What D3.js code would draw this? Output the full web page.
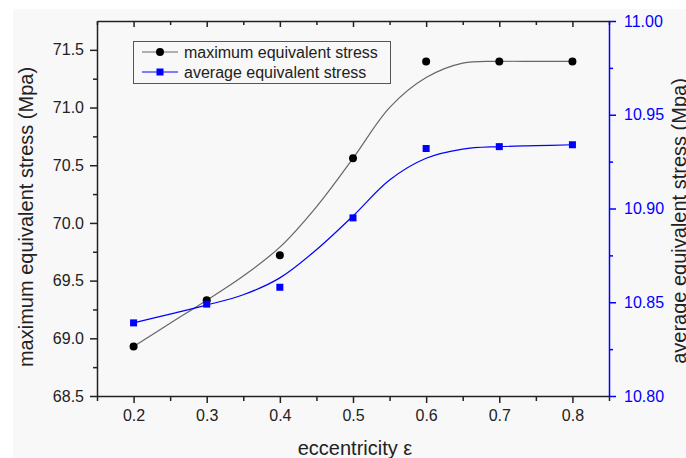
<!DOCTYPE html>
<meta charset="utf-8">
<script src="https://cdnjs.cloudflare.com/ajax/libs/d3/7.8.5/d3.min.js"></script>
<style>
  body { margin: 0; background: #fff; font-family: "Liberation Sans", Arial, sans-serif; }
  .axis text { font-size: 16px; fill: #222; font-family: "Liberation Sans", Arial, sans-serif; }
  .axis path, .axis line { stroke: #222; stroke-width: 1.5px; }
  .axis.right path, .axis.right line { stroke: #0000ff; }
  .axis.right text { fill: #0000ff; }
  .title { font-size: 20px; fill: #222; }
  .legend text { font-size: 16px; fill: #222; }
</style>
<body>
<script>

// data
var ecc = [0.2, 0.3, 0.4, 0.5, 0.6, 0.7, 0.8];
var maxStress = [68.93, 69.33, 69.72, 70.56, 71.40, 71.40, 71.40];
var avgStress = [10.839, 10.849, 10.858, 10.895, 10.932, 10.933, 10.934];

// fitted curves, sampled every 0.05 from the picture
var fitX = [0.2, 0.25, 0.3, 0.35, 0.4, 0.45, 0.5, 0.55, 0.6, 0.65, 0.7, 0.75, 0.8];
var maxFit = [68.93, 69.13, 69.33, 69.54, 69.79, 70.14, 70.56, 71.00, 71.26, 71.385, 71.40, 71.40, 71.40];
var avgFit = [10.839, 10.8437, 10.8485, 10.854, 10.863, 10.878, 10.896, 10.9152, 10.9268, 10.9317, 10.933, 10.9335, 10.934];

var xTicks = [0.2, 0.3, 0.4, 0.5, 0.6, 0.7, 0.8];
var xMinor = [0.15, 0.25, 0.35, 0.45, 0.55, 0.65, 0.75, 0.85];
var leftTicks = [68.5, 69.0, 69.5, 70.0, 70.5, 71.0, 71.5];
var leftMinor = [68.75, 69.25, 69.75, 70.25, 70.75, 71.25];
var rightTicks = [10.80, 10.85, 10.90, 10.95, 11.00];
var rightMinor = [10.825, 10.875, 10.925, 10.975];

var seriesNames = ["maximum equivalent stress", "average equivalent stress"];

var W = 686, H = 458;
var plot = {left: 97, right: 609, top: 21, bottom: 396};

var svg = d3.select("body").append("svg")
    .attr("width", W)
    .attr("height", H);

svg.append("rect")
    .attr("x", 13).attr("y", 9)
    .attr("width", W - 13).attr("height", H - 9)
    .attr("fill", "#f8f8f8");

var x = d3.scaleLinear().domain([0.15, 0.85]).range([plot.left, plot.right]);
var yL = d3.scaleLinear().domain([68.5, 71.75]).range([plot.bottom, plot.top]);
var yR = d3.scaleLinear().domain([10.8, 11.0]).range([plot.bottom, plot.top]);

// top border with inward ticks
svg.append("g").attr("class", "axis")
    .attr("transform", "translate(0," + plot.top + ")")
    .call(d3.axisBottom(x).tickValues(xTicks).tickSize(6).tickSizeOuter(0).tickFormat(""));
svg.append("g").attr("class", "axis")
    .attr("transform", "translate(0," + plot.top + ")")
    .call(d3.axisBottom(x).tickValues(xMinor).tickSize(4).tickSizeOuter(0).tickFormat(""))
    .select(".domain").remove();

// bottom
svg.append("g").attr("class", "axis")
    .attr("transform", "translate(0," + plot.bottom + ")")
    .call(d3.axisBottom(x).tickValues(xTicks).tickSize(7).tickSizeOuter(0).tickPadding(7).tickFormat(d3.format(".1f")));
svg.append("g").attr("class", "axis")
    .attr("transform", "translate(0," + plot.bottom + ")")
    .call(d3.axisBottom(x).tickValues(xMinor).tickSize(5).tickSizeOuter(0).tickFormat(""))
    .select(".domain").remove();

// left
svg.append("g").attr("class", "axis")
    .attr("transform", "translate(" + plot.left + ",0)")
    .call(d3.axisLeft(yL).tickValues(leftTicks).tickSize(7).tickSizeOuter(0).tickPadding(6).tickFormat(d3.format(".1f")));
svg.append("g").attr("class", "axis")
    .attr("transform", "translate(" + plot.left + ",0)")
    .call(d3.axisLeft(yL).tickValues(leftMinor).tickSize(4).tickSizeOuter(0).tickFormat(""))
    .select(".domain").remove();

// right (blue)
svg.append("g").attr("class", "axis right")
    .attr("transform", "translate(" + plot.right + ",0)")
    .call(d3.axisRight(yR).tickValues(rightTicks).tickSize(7).tickSizeOuter(0).tickPadding(8).tickFormat(d3.format(".2f")));
svg.append("g").attr("class", "axis right")
    .attr("transform", "translate(" + plot.right + ",0)")
    .call(d3.axisRight(yR).tickValues(rightMinor).tickSize(4).tickSizeOuter(0).tickFormat(""))
    .select(".domain").remove();

// fitted curves
var maxLine = d3.line()
    .x(function(d, i) { return x(fitX[i]); })
    .y(function(d) { return yL(d); })
    .curve(d3.curveCatmullRom.alpha(0.5));
var avgLine = d3.line()
    .x(function(d, i) { return x(fitX[i]); })
    .y(function(d) { return yR(d); })
    .curve(d3.curveCatmullRom.alpha(0.5));

svg.append("path")
    .attr("d", maxLine(maxFit))
    .attr("fill", "none")
    .attr("stroke", "#666")
    .attr("stroke-width", 1.2);
svg.append("path")
    .attr("d", avgLine(avgFit))
    .attr("fill", "none")
    .attr("stroke", "#0000ff")
    .attr("stroke-width", 1.2);

// markers
svg.selectAll(".max-pt")
    .data(maxStress)
  .enter().append("circle")
    .attr("class", "max-pt")
    .attr("cx", function(d, i) { return x(ecc[i]); })
    .attr("cy", function(d) { return yL(d); })
    .attr("r", 4)
    .attr("fill", "#000");

svg.selectAll(".avg-pt")
    .data(avgStress)
  .enter().append("rect")
    .attr("class", "avg-pt")
    .attr("x", function(d, i) { return x(ecc[i]) - 3.5; })
    .attr("y", function(d) { return yR(d) - 3.5; })
    .attr("width", 7)
    .attr("height", 7)
    .attr("fill", "#0000ff");

// axis titles
svg.append("text").attr("class", "title")
    .attr("transform", "translate(33,217) rotate(-90)")
    .attr("text-anchor", "middle")
    .text("maximum equivalent stress (Mpa)");
svg.append("text").attr("class", "title")
    .attr("transform", "translate(686,221) rotate(-90)")
    .attr("text-anchor", "middle")
    .text("average equivalent stress (Mpa)");
svg.append("text").attr("class", "title")
    .attr("x", 355).attr("y", 455)
    .attr("text-anchor", "middle")
    .text("eccentricity \u03b5");

// legend
var legend = svg.append("g").attr("class", "legend");
legend.append("rect")
    .attr("x", 133.5).attr("y", 41.5)
    .attr("width", 257).attr("height", 42)
    .attr("fill", "none")
    .attr("stroke", "#555")
    .attr("stroke-width", 1);

var rows = legend.selectAll(".row")
    .data(seriesNames)
  .enter().append("g")
    .attr("class", "row")
    .attr("transform", function(d, i) { return "translate(0," + (52 + i * 20) + ")"; });

rows.append("line")
    .attr("x1", 142).attr("x2", 178)
    .attr("stroke", function(d, i) { return i ? "#0000ff" : "#666"; })
    .attr("stroke-width", 1.2);

rows.filter(function(d, i) { return i === 0; }).append("circle")
    .attr("cx", 160).attr("r", 4).attr("fill", "#000");
rows.filter(function(d, i) { return i === 1; }).append("rect")
    .attr("x", 156.5).attr("y", -3.5).attr("width", 7).attr("height", 7).attr("fill", "#0000ff");

rows.append("text")
    .attr("x", 184)
    .attr("dy", "0.35em")
    .text(function(d) { return d; });

</script>
</body>
